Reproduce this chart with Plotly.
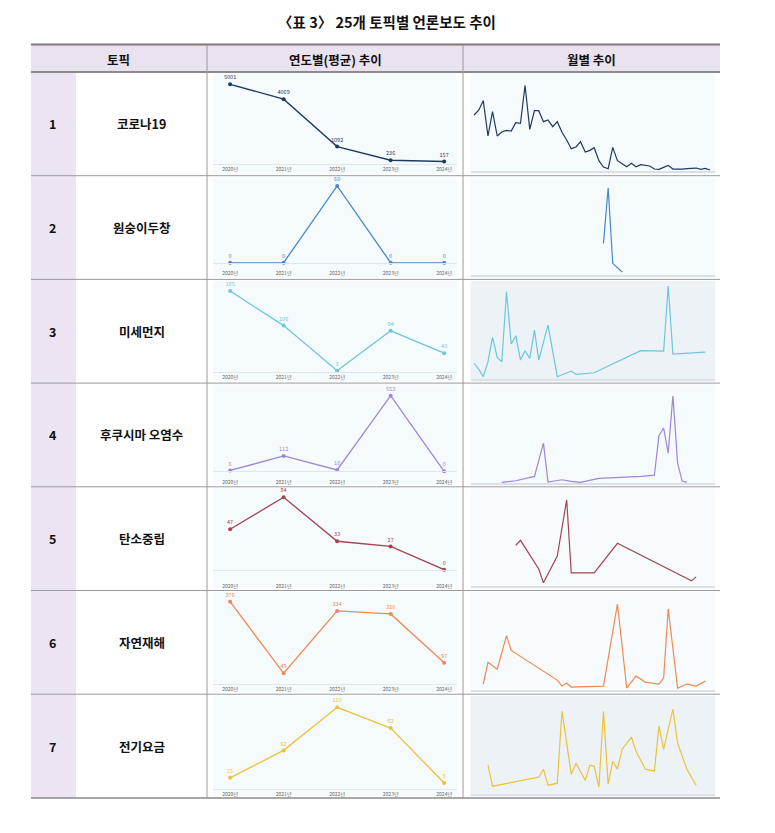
import plotly.graph_objects as go

# page body has an 8px margin, so the figure is drawn smaller and coordinates shifted
OFF = 8
W, H = 775 - OFF, 833 - OFF

TITLE = "〈표 3〉 25개 토픽별 언론보도 추이"
HEADERS = ["토픽", "연도별(평균) 추이", "월별 추이"]
TOPIC_NO = ["1", "2", "3", "4", "5", "6", "7"]
TOPIC_NAMES = ["코로나19", "원숭이두창", "미세먼지", "후쿠시마 오염수", "탄소중립", "자연재해", "전기요금"]
COLORS = ["#1f3a5f", "#4a86c8", "#6ec6dc", "#9f86d6", "#a5424f", "#ee8a52", "#ecc23a"]

YEARS = ["2020년", "2021년", "2022년", "2023년", "2024년"]
Y_COVID = [5001, 4069, 1092, 236, 157]
Y_MPOX = [0, 0, 60, 0, 0]
Y_DUST = [185, 106, 3, 94, 43]
Y_FUKU = [6, 112, 10, 553, 0]
Y_CARBON = [47, 84, 33, 27, 0]
Y_DISASTER = [376, 49, 334, 320, 97]
Y_POWER = [15, 52, 110, 82, 8]
YEARLY = [Y_COVID, Y_MPOX, Y_DUST, Y_FUKU, Y_CARBON, Y_DISASTER, Y_POWER]

# monthly series (month label, count)
MONTHS = [f"{y}-{m:02d}" for y in range(2020, 2025) for m in range(1, 13)][:52]
M_COVID = [167, 182, 210, 104, 177, 104, 116, 121, 119, 144, 142, 256, 124, 180, 180, 147, 152, 132,
           147, 115, 92, 66, 71, 87, 56, 61, 69, 30, 11, 6, 70, 30, 21, 12, 22, 12, 18, 17, 14, 5,
           4, 10, 16, 5, 4, 5, 6, 6, 8, 4, 7, 2]
M_MPOX_X = ["2022-05", "2022-06", "2022-07", "2022-09"]
M_MPOX = [95, 262, 35, 9]
M_DUST_X = ["2020-01", "2020-02", "2020-03", "2020-04", "2020-05", "2020-06", "2020-07", "2020-08",
            "2020-09", "2020-10", "2020-11", "2020-12", "2021-01", "2021-02", "2021-03", "2021-04",
            "2021-05", "2021-07", "2021-10", "2021-11", "2022-03", "2023-01", "2023-06", "2023-07",
            "2023-08", "2024-03"]
M_DUST = [48, 30, 8, 53, 126, 66, 53, 263, 106, 131, 58, 86, 63, 148, 58, 108, 163, 8, 25, 15, 20,
          86, 85, 280, 76, 82]
M_FUKU_X = ["2020-07", "2020-10", "2021-02", "2021-04", "2021-05", "2021-08", "2021-10", "2021-12",
            "2022-03", "2022-04", "2023-01", "2023-04", "2023-05", "2023-06", "2023-07", "2023-08",
            "2023-09", "2023-10", "2023-11"]
M_FUKU = [2, 7, 20, 120, 3, 10, 5, 2, 11, 14, 20, 24, 142, 165, 90, 262, 60, 6, 2]
M_CARBON_X = ["2020-10", "2020-11", "2021-03", "2021-04", "2021-07", "2021-09", "2021-10", "2022-03",
              "2022-08", "2023-12", "2024-01"]
M_CARBON = [41, 46, 17, 3, 30, 87, 13, 13, 43, 5, 9]
M_DISASTER_X = ["2020-03", "2020-04", "2020-06", "2020-08", "2020-09", "2021-07", "2021-08", "2021-09",
                "2021-10", "2022-05", "2022-08", "2022-10", "2022-12", "2023-02", "2023-05", "2023-06",
                "2023-07", "2023-09", "2023-11", "2024-01", "2024-03"]
M_DISASTER = [6, 28, 21, 55, 40, 10, 4, 7, 3, 4, 87, 2, 14, 8, 6, 12, 82, 2, 6, 4, 9]
M_POWER_X = ["2020-04", "2020-05", "2021-03", "2021-04", "2021-05", "2021-07", "2021-08", "2021-10",
             "2021-11", "2022-01", "2022-02", "2022-03", "2022-04", "2022-05", "2022-06", "2022-07",
             "2022-08", "2022-09", "2022-11", "2022-12", "2023-02", "2023-04", "2023-05", "2023-06",
             "2023-08", "2023-09", "2023-11", "2024-01"]
M_POWER = [29, 8, 17, 25, 9, 11, 83, 20, 31, 14, 29, 28, 7, 83, 10, 33, 25, 45, 57, 43, 25, 23, 68,
           45, 85, 51, 25, 9]
MONTHLY = [(MONTHS, M_COVID), (M_MPOX_X, M_MPOX), (M_DUST_X, M_DUST), (M_FUKU_X, M_FUKU),
           (M_CARBON_X, M_CARBON), (M_DISASTER_X, M_DISASTER), (M_POWER_X, M_POWER)]


def px(x):
    return (x - OFF) / W


def py(y):
    return 1 - (y - OFF) / H


TABLE_L, TABLE_R = 31, 720
NUM_R, COL1_R, COL2_R = 76, 207, 463
HEAD_T, HEAD_B = 44.5, 72
ROW_H = 103.7

# per-row placement of the embedded mini charts (pixel offsets from row top)
Y_BASE = [92, 87, 92.6, 88.2, 82.9, 93.5, 94.8]
Y_PEAK = [12.3, 10.3, 11.6, 12.6, 10.5, 11.2, 13.1]
Y_TICKOFF = [0, 5, 0, 6, 11, 0, 0]
M_BASE = [98.7, 99.3, 100, 100, 99, 99.5, 100]
M_PEAK = [13.3, 12, 6.6, 12.6, 13, 13.5, 15]
M_BG = ["#f5fafd", "#f5fafd", "#edf2f6", "#f5fafd", "#f7fbfd", "#f7fbfd", "#edf2f6"]

fig = go.Figure()
shapes, annots = [], []
layout_axes = {}


def label(x, y, text, size, color="#111"):
    annots.append(dict(x=px(x), y=py(y), xref="paper", yref="paper", text=text, showarrow=False,
                       xanchor="center", yanchor="middle", font=dict(size=size, color=color)))


# header band and number column
shapes.append(dict(type="rect", xref="paper", yref="paper", x0=px(TABLE_L), x1=px(TABLE_R),
                   y0=py(HEAD_B), y1=py(HEAD_T), fillcolor="#ebe2f0", line_width=0, layer="below"))
shapes.append(dict(type="rect", xref="paper", yref="paper", x0=px(TABLE_L), x1=px(NUM_R),
                   y0=py(HEAD_B + 7 * ROW_H), y1=py(HEAD_B), fillcolor="#ece4f2", line_width=0,
                   layer="below"))

for i in range(7):
    top = HEAD_B + i * ROW_H
    bot = top + ROW_H
    ymid = (top + bot) / 2
    label((TABLE_L + NUM_R) / 2 - 1, ymid, f"<b>{TOPIC_NO[i]}</b>", 12.5)
    label((NUM_R + COL1_R) / 2, ymid, f"<b>{TOPIC_NAMES[i]}</b>", 12.5)

    # yearly chart
    k = 2 * i + 1
    shapes.append(dict(type="rect", xref="paper", yref="paper", x0=px(213), x1=px(457),
                       y0=py(bot - 2), y1=py(top + 1.5), fillcolor="#f5fafd", line_width=0,
                       layer="below"))
    xa = "x" if k == 1 else f"x{k}"
    ya = "y" if k == 1 else f"y{k}"
    vals = YEARLY[i]
    fig.add_trace(go.Scatter(
        x=YEARS, y=vals, xaxis=xa, yaxis=ya, mode="lines+markers+text",
        text=[str(v) for v in vals], textposition="top center",
        textfont=dict(size=5.5, color=COLORS[i]),
        line=dict(color=COLORS[i], width=1.3), marker=dict(color=COLORS[i], size=4),
        cliponaxis=False, showlegend=False, hoverinfo="skip"))
    layout_axes["xaxis" if k == 1 else f"xaxis{k}"] = dict(
        domain=[px(213), px(457)], anchor=ya, type="category", range=[-0.32, 4.24],
        showgrid=False, zeroline=False, showline=True, linecolor="#dde7ef", linewidth=1,
        ticks="", tickfont=dict(size=5, color="#666"), ticklabelstandoff=Y_TICKOFF[i],
        fixedrange=True)
    layout_axes["yaxis" if k == 1 else f"yaxis{k}"] = dict(
        domain=[py(top + Y_BASE[i]), py(top + Y_PEAK[i])], anchor=xa, range=[0, max(vals)],
        visible=False, fixedrange=True)

    # monthly chart
    k = 2 * i + 2
    shapes.append(dict(type="rect", xref="paper", yref="paper", x0=px(470.5), x1=px(715),
                       y0=py(bot - 1.5), y1=py(top + 1.5), fillcolor=M_BG[i], line_width=0,
                       layer="below"))
    xa, ya = f"x{k}", f"y{k}"
    mx, mv = MONTHLY[i]
    fig.add_trace(go.Scatter(
        x=mx, y=mv, xaxis=xa, yaxis=ya, mode="lines",
        line=dict(color=COLORS[i], width=1.2), cliponaxis=False, showlegend=False,
        hoverinfo="skip"))
    layout_axes[f"xaxis{k}"] = dict(
        domain=[px(470.5), px(715)], anchor=ya, type="date", range=["2019-12-08", "2024-05-04"],
        showgrid=False, zeroline=False, showline=True, linecolor="#dbe1e7", linewidth=2,
        showticklabels=False, ticks="", fixedrange=True)
    layout_axes[f"yaxis{k}"] = dict(
        domain=[py(top + M_BASE[i]), py(top + M_PEAK[i])], anchor=xa, range=[0, max(mv)],
        visible=False, fixedrange=True)


# table rules
def hline(y, w, c):
    shapes.append(dict(type="line", xref="paper", yref="paper", x0=px(TABLE_L), x1=px(TABLE_R),
                       y0=py(y), y1=py(y), line=dict(color=c, width=w)))


def vline(x):
    shapes.append(dict(type="line", xref="paper", yref="paper", x0=px(x), x1=px(x),
                       y0=py(HEAD_T), y1=py(HEAD_B + 7 * ROW_H), line=dict(color="#9a9a9a", width=1)))


hline(HEAD_T, 2.2, "#7a7a7a")
hline(HEAD_B, 2, "#8a8a8a")
for i in range(1, 7):
    hline(HEAD_B + i * ROW_H, 1, "#9a9a9a")
hline(HEAD_B + 7 * ROW_H, 1.5, "#8a8a8a")
vline(COL1_R)
vline(COL2_R)

# title and header texts
label(387, 22, f"<b>{TITLE}</b>", 14.5)
for txt, cx in zip(HEADERS, [(TABLE_L + COL1_R) / 2, (COL1_R + COL2_R) / 2, (COL2_R + TABLE_R) / 2]):
    label(cx, (HEAD_T + HEAD_B) / 2 + 1, f"<b>{txt}</b>", 12.5)

fig.update_layout(
    width=W, height=H, margin=dict(l=0, r=0, t=0, b=0),
    paper_bgcolor="white", plot_bgcolor="rgba(0,0,0,0)",
    font=dict(family="Noto Sans CJK KR, Noto Sans, sans-serif"),
    shapes=shapes, annotations=annots, **layout_axes,
)

fig.write_html("out.html", config={"displayModeBar": False})
